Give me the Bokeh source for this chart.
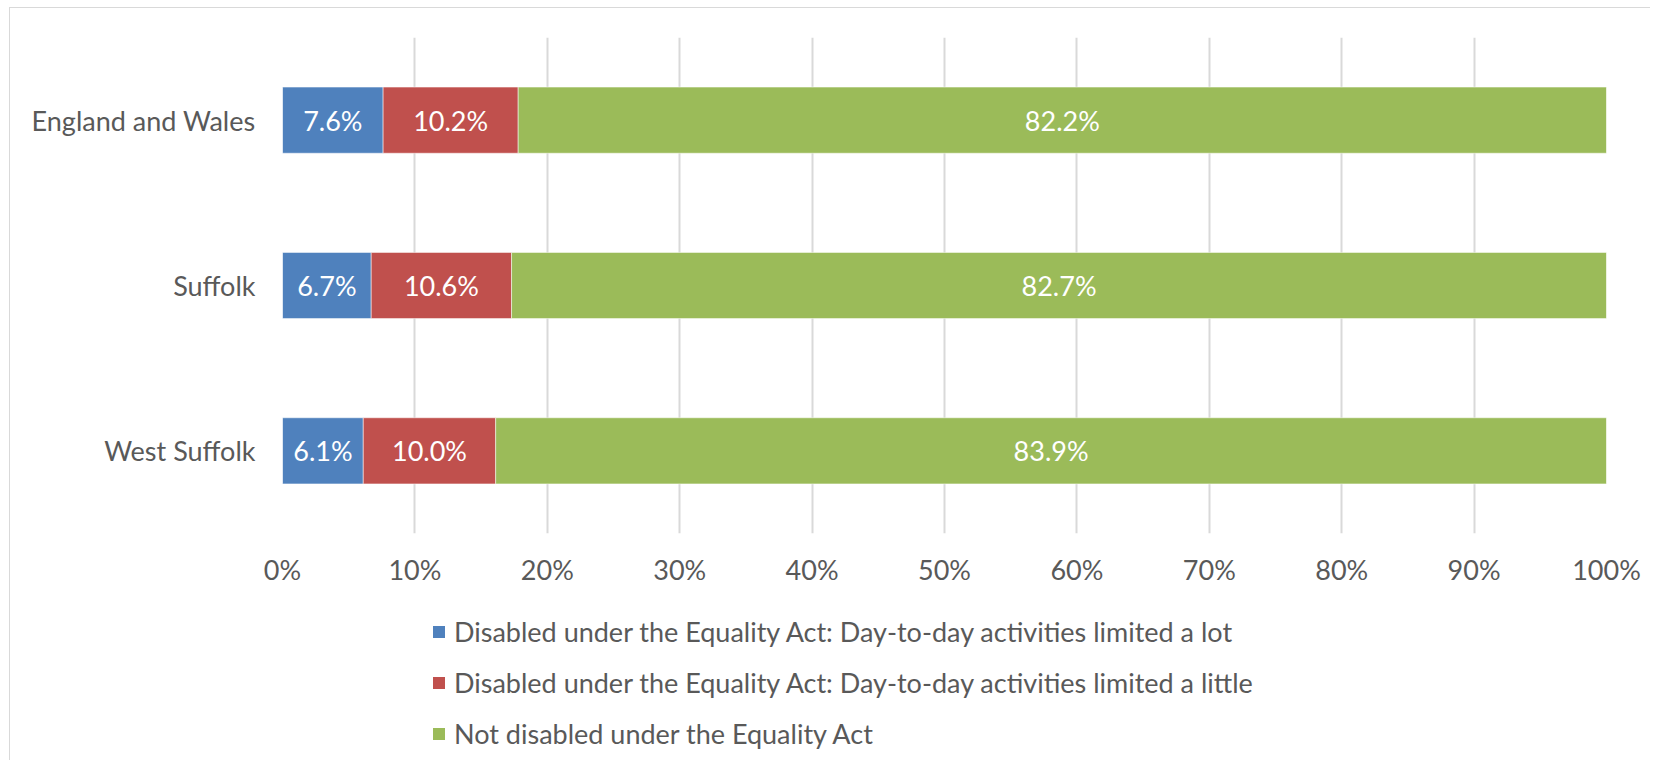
from bokeh.plotting import figure
from bokeh.layouts import column
from bokeh.models import ColumnDataSource, FactorRange, Range1d, FixedTicker, Legend, LegendItem
from bokeh.core.properties import value
from bokeh.embed import file_html
from bokeh.resources import INLINE

categories = ["England and Wales", "Suffolk", "West Suffolk"]
limited_a_lot = [7.6, 6.7, 6.1]
limited_a_little = [10.2, 10.6, 10.0]
not_disabled = [82.2, 82.7, 83.9]
series_names = [
    "Disabled under the Equality Act: Day-to-day activities limited a lot",
    "Disabled under the Equality Act: Day-to-day activities limited a little",
    "Not disabled under the Equality Act",
]
colors = ["#4F81BD", "#C0504D", "#9BBB59"]
x_ticks = [0, 10, 20, 30, 40, 50, 60, 70, 80, 90, 100]
tick_labels = {t: f"{t}%" for t in x_ticks}

FONT = "Lato"
TXT = "#595959"
FS = "27px"

source = ColumnDataSource(dict(cat=categories, a=limited_a_lot, b=limited_a_little, c=not_disabled))

p = figure(
    width=1640, height=592,
    y_range=FactorRange(*categories[::-1]),
    x_range=Range1d(0, 100),
    output_backend="svg", toolbar_location=None,
    min_border_left=272, min_border_right=44, min_border_top=29, min_border_bottom=67,
)
p.outline_line_color = None

p.hbar_stack(["a", "b", "c"], y="cat", height=0.4, color=colors, source=source,
             line_color="white", line_alpha=0.5, line_width=1)

# data labels
xs, ys, labels = [], [], []
for i, cat in enumerate(categories):
    left = 0.0
    for vals in (limited_a_lot, limited_a_little, not_disabled):
        v = vals[i]
        xs.append(left + v / 2)
        ys.append(cat)
        labels.append(f"{v:.1f}%")
        left += v
p.text(x=xs, y=ys, text=labels, text_color="white", text_align="center", text_baseline="middle",
       text_font=value(FONT), text_font_size=FS)

# axes
p.xaxis.ticker = FixedTicker(ticks=x_ticks)
p.xaxis.major_label_overrides = tick_labels
p.xaxis.axis_line_color = None
p.xaxis.major_tick_line_color = None
p.xaxis.minor_tick_line_color = None
p.xaxis.major_tick_out = 0
p.xaxis.major_label_standoff = 19
p.xaxis.major_label_text_font = FONT
p.xaxis.major_label_text_font_size = FS
p.xaxis.major_label_text_color = TXT

p.yaxis.axis_line_color = None
p.yaxis.major_tick_line_color = None
p.yaxis.major_tick_out = 0
p.yaxis.major_label_standoff = 27
p.yaxis.major_label_text_font = FONT
p.yaxis.major_label_text_font_size = FS
p.yaxis.major_label_text_color = TXT

p.xgrid.grid_line_color = "#D9D9D9"
p.xgrid.grid_line_width = 2
p.ygrid.grid_line_color = None

# legend panel: same series with zero bar height (nothing painted), only the legend shows
lf = figure(width=1640, height=160, x_range=Range1d(0, 100), y_range=FactorRange(*categories[::-1]),
            output_backend="svg", toolbar_location=None,
            min_border_left=0, min_border_right=0, min_border_top=0, min_border_bottom=0)
lf.axis.visible = False
lf.grid.visible = False
lf.outline_line_color = None
leg_renderers = lf.hbar_stack(["a", "b", "c"], y="cat", height=0, fill_color=colors,
                              line_color=None, source=source)

legend = Legend(
    items=[LegendItem(label=n, renderers=[r]) for n, r in zip(series_names, leg_renderers)],
    location=(149, 10),
    orientation="vertical",
    glyph_width=15, glyph_height=15,
    label_text_font=FONT, label_text_font_size=FS, label_text_color=TXT,
    label_height=34, label_standoff=8, spacing=17, padding=0, margin=0,
    border_line_color=None, background_fill_alpha=0,
)
lf.add_layout(legend, "center")

layout = column(p, lf, spacing=0)
layout.styles = {"border-top": "1px solid #D9D9D9", "border-left": "1px solid #D9D9D9",
                 "margin-top": "7px", "margin-left": "9px"}

open("out.html", "w").write(file_html(layout, INLINE))
